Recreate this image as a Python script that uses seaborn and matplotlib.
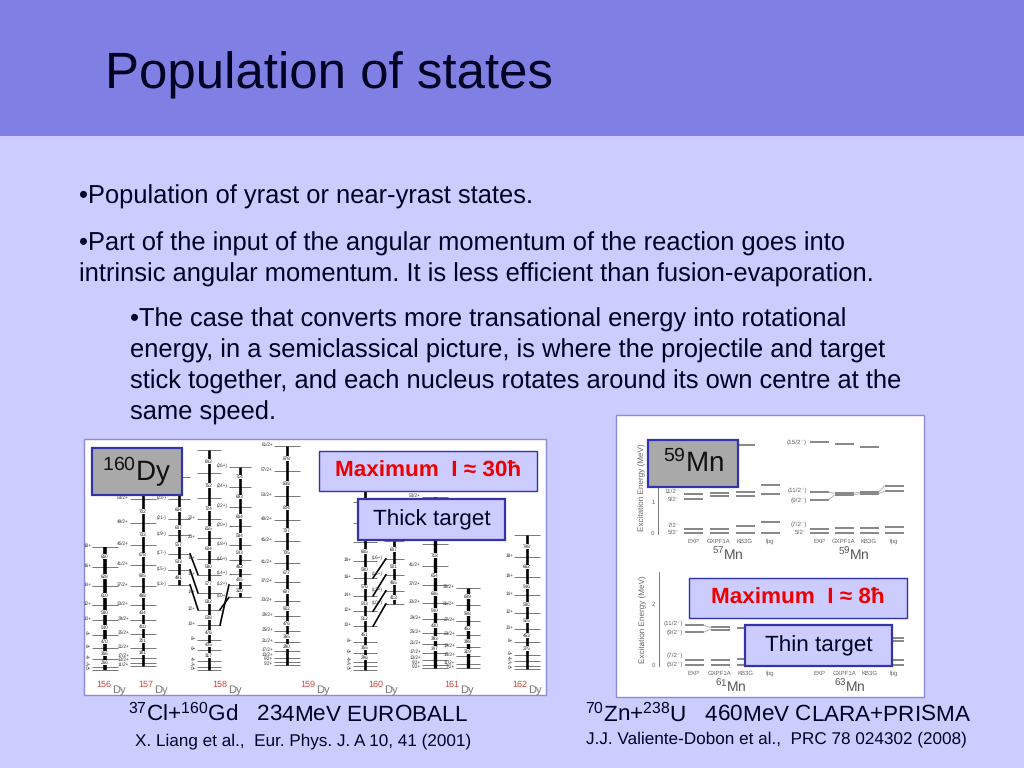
import matplotlib
matplotlib.use("Agg")
import matplotlib.pyplot as plt
from matplotlib.patches import Rectangle
import pandas as pd
import seaborn as sns

sns.set_theme(style="white")
plt.rcParams['font.family'] = ['Liberation Sans', 'DejaVu Sans']
plt.rcParams['mathtext.fontset'] = 'custom'
plt.rcParams['mathtext.rm'] = 'Liberation Sans'
plt.rcParams['mathtext.default'] = 'regular'
plt.rcParams['text.hinting'] = 'no_hinting'

# Dy level schemes : level heights (arbitrary units)
dy156 = [0, 11, 35, 67, 107, 152, 197, 254, 311, 370]
dy157 = [14, 21, 37, 67, 110, 152, 197, 254, 317, 375, 442, 513, 579]
dy158a = [257, 302, 350, 405, 454, 513, 579]
dy158 = [0, 11, 29, 60, 92, 135, 182, 232, 287, 334, 397, 454, 517, 592, 662]
dy158b = [219, 257, 289, 331, 375, 434, 490, 550, 610]
dy159 = [17, 25, 37, 57, 85, 117, 162, 207, 265, 322, 387, 452, 522, 597, 672]
dy160 = [2, 12, 25, 52, 85, 132, 177, 223, 277, 327, 384, 442, 505, 537]
dy160b = [200, 239, 287, 335, 389]
dy161 = [7, 17, 32, 52, 79, 112, 155, 202, 257, 312, 379, 442, 519]
dy161b = [7, 20, 42, 69, 105, 147, 195, 247]
dy162 = [5, 12, 29, 47, 85, 124, 172, 225, 280, 340, 405]

even_spins = [f"{i}+" for i in range(0, 30, 2)]
spins156 = even_spins[:10]
spins157 = [f"{i}/2+" for i in [11, 13, 17, 21, 25, 29, 33, 37, 41, 45, 49, 53, 57]]
spins158a = ["(13-)", "(15-)", "(17-)", "(19-)", "(21-)", "(23-)", "(25-)"]
spins158 = even_spins
spins158b = ["(10+)", "(12+)", "(14+)", "(16+)", "(18+)", "(20+)", "(22+)", "(24+)", "(26+)"]
spins159 = [f"{i}/2+" for i in range(5, 62, 4)]
spins160 = even_spins[:14]
spins160b = ["(10+)", "(12+)", "(14+)", "(16+)", "(18+)"]
spins161 = [f"{i}/2+" for i in range(5, 54, 4)]
spins161b = [f"{i}/2+" for i in range(7, 36, 4)]
spins162 = even_spins[:11]

gammas156 = [138, 266, 366, 470, 540, 580, 610, 628, 660]
gammas157 = [77, 107, 181, 301, 410, 434, 488, 605, 678, 733, 702, 804]
gammas158a = [491, 533, 557, 637, 664]
gammas158 = [99, 218, 317, 405, 476, 538, 582, 577, 580, 634, 655, 724, 752, 842]
gammas158b = [320, 405, 462, 543, 584, 664, 693, 714]
gammas159 = [80, 120, 200, 280, 365, 476, 502, 607, 677, 705, 737, 804, 838, 878]
gammas160 = [86, 197, 296, 355, 451, 512, 543, 576, 590, 605]
gammas160b = [413, 465, 501, 607]
gammas161 = [75, 101, 207, 347, 393, 430, 540, 606, 654, 718]
gammas161b = [150, 260, 319, 398, 452, 508, 639]
gammas162 = [81, 185, 266, 375, 453, 525, 580, 546, 662, 748]

dy_names = ["156", "157", "158", "159", "160", "161", "162"]

# Mn level schemes : excitation energy (MeV)
mn_models = ["EXP", "GXPF1A", "KB3G", "fpg"]
mn57 = [[0, .11, 1.10, 1.27], [0, .12, 1.20, 1.30], [0, .21, 1.21, 1.34, 2.87], [0, .34, 1.26, 1.57, 3.24]]
mn59 = [[0, .13, 1.07, 1.32, 2.95], [0, .16, 1.23, 1.29, 2.89], [0, .14, 1.27, 1.32, 2.79], [0, .20, 1.36, 1.53, 3.18]]
mn61 = [[0, .17, 1.06, 1.29], [0, .17, 1.15, 1.22], [0, .20, 1.19], []]
mn63 = [[], [], [], [0, .16, .78, .87]]
mn57_spins = ["5/2⁻", "7/2⁻", "9/2⁻", "11/2⁻"]
mn59_spins = ["5/2⁻", "(7/2⁻)", "(9/2⁻)", "(11/2⁻)", "(15/2⁻)"]
mn61_spins = ["(5/2⁻)", "(7/2⁻)", "(9/2⁻)", "(11/2⁻)"]

# colours
header_col = "#8080e4"
bg_col = "#ccccff"
edge_col = "#3333aa"
box_gray = "#a9a9a9"
panel_edge = "#8a8ae0"
red_col = "#ee0000"
ink = "#000022"

# boxes : x, y, w, h (pixels)
box_dy = (92, 448, 90, 47)
box_mn = (648, 440, 90, 47)
box_max30 = (319, 451, 218, 40)
box_max8 = (689, 578, 218, 40)
box_thick = (358, 499, 147, 41)
box_thin = (745, 625, 147, 41)
all_boxes = [box_dy, box_mn, box_max30, box_max8, box_thick, box_thin]


def px_rect(x0, y0, x1, y1):
    """Axes position from pixel corners of the 1024x768 slide."""
    return [x0 / 1024, 1 - y1 / 768, (x1 - x0) / 1024, (y1 - y0) / 768]


def hidden(ax, x, y):
    """True when a data point of ax falls under one of the boxes."""
    xp, yp = ax.transData.transform((x, y))
    yp = 768 - yp
    for bx, by, bw, bh in all_boxes:
        if bx - 14 < xp < bx + bw + 14 and by - 3 < yp < by + bh + 3:
            return True
    return False


fig = plt.figure(figsize=(10.24, 7.68), dpi=100, facecolor=bg_col)

# slide background, in pixels
bg = fig.add_axes([0, 0, 1, 1], zorder=0)
bg.set_xlim(0, 1024)
bg.set_ylim(768, 0)
bg.axis("off")
bg.add_patch(Rectangle((0, 0), 1024, 136, fc=header_col, ec="none"))
bg.add_patch(Rectangle((84, 439), 462, 256, fc="white", ec=panel_edge, lw=1.0))
bg.add_patch(Rectangle((616, 415), 308, 282, fc="white", ec=panel_edge, lw=1.0))

# ---- Dy panel
axd = fig.add_axes(px_rect(84, 439, 546, 695), zorder=1)
axd.patch.set_alpha(0)
axd.axis("off")
axd.set_xlim(0, 462)
axd.set_ylim(-74, 694)


def draw_band(x, levels, spins, gammas, hw=13, lw=1.9):
    df = pd.DataFrame({"x": x, "level": levels})
    axd.vlines(x, min(levels), max(levels), color="black", lw=lw)
    sns.scatterplot(data=df, x="x", y="level", marker="_", s=(2 * hw * 0.72) ** 2,
                    color="#777777", linewidth=0.7, ax=axd, legend=False)
    # spin labels pushed apart where levels crowd together
    y_prev = -100
    for lev, sp in zip(levels, spins):
        y_lab = max(lev + 4, y_prev + 13)
        y_prev = y_lab
        if not hidden(axd, x - hw - 6, y_lab):
            axd.text(x - hw - 1, y_lab, sp, fontsize=3.3, color="#333333", ha="right", va="center")
    for lo, hi, g in zip(levels[:-1], levels[1:], gammas):
        if hi - lo > 22 and not hidden(axd, x, (lo + hi) / 2):
            axd.text(x, (lo + hi) / 2, str(g), fontsize=3.3, color="#222222", ha="center", va="center",
                     bbox=dict(fc="white", ec="none", pad=0.1))


def draw_link(xa, ya, xb, yb, hw=13):
    sign = 1 if xb > xa else -1
    axd.plot([xa + sign * hw, xb - sign * hw], [ya, yb], color="black", lw=1.2)


x158a, x158, x158b = 95, 125, 156
x160, x160b = 281, 310
draw_band(21, dy156, spins156, gammas156, lw=2.6)
draw_band(59, dy157, spins157, gammas157)
draw_band(x158a, dy158a, spins158a, gammas158a, hw=11)
draw_band(x158, dy158, spins158, gammas158, hw=12)
draw_band(x158b, dy158b, spins158b, gammas158b, hw=11)
draw_band(203, dy159, spins159, gammas159)
draw_band(x160, dy160, spins160, gammas160, hw=12)
draw_band(x160b, dy160b, spins160b, gammas160b, hw=10)
draw_band(351, dy161, spins161, gammas161, lw=2.4)
draw_band(384, dy161b, spins161b, gammas161b, hw=12, lw=2.4)
draw_band(443, dy162, spins162, gammas162)

for ia, ib in [(0, 6), (1, 7), (2, 8)]:
    draw_link(x158a, dy158a[ia], x158, dy158[ib], hw=11)
for ia, ib in [(0, 6), (1, 5)]:
    draw_link(x158b, dy158b[ia], x158, dy158[ib], hw=11)
for ia, ib in [(0, 5), (1, 6), (2, 7), (3, 8)]:
    draw_link(x160b, dy160b[ia], x160, dy160[ib], hw=8)

for name, xn in zip(dy_names, [27, 69, 143, 231, 299, 375, 443]):
    axd.text(xn, -43, name, fontsize=6.5, color="#cc4444", ha="right", va="center")
    axd.text(xn + 1, -58, "Dy", fontsize=8, color="#777777", ha="left", va="center")


# ---- Mn panels
def draw_mn(pos, schemes, ticks, names, tick_labels, linked):
    ax = fig.add_axes(pos, zorder=1)
    ax.patch.set_alpha(0)
    ax.set_xlim(0, 255)
    ax.set_ylim(-0.04, (pos[3] * 768) / 30.67 - 0.04)
    cols = [35, 61, 87, 112, 161, 186, 211, 236]
    rows = []
    for xc, levels in zip(cols, schemes):
        rows += [{"x": xc, "e": e} for e in levels]
    df = pd.DataFrame(rows)
    sns.scatterplot(data=df, x="x", y="e", marker="_", s=(19 * 0.72) ** 2, color="#666666",
                    linewidth=1.1, ax=ax, legend=False)
    for i in linked:
        for ea, eb in zip(schemes[i][2:4], schemes[i + 1][2:4]):
            ax.plot([cols[i] + 9.5, cols[i + 1] - 9.5], [ea, eb], color="#aaaaaa", lw=0.6)
    for s in ["top", "right", "bottom"]:
        ax.spines[s].set_visible(False)
    ax.spines["left"].set_color("#777777")
    ax.spines["left"].set_linewidth(0.7)
    ax.set_xticks(cols, mn_models * 2)
    ax.set_yticks(ticks, tick_labels)
    ax.tick_params(axis="x", length=0, labelsize=4.3, labelcolor="#666666", pad=3)
    ax.tick_params(axis="y", length=1.5, width=0.5, color="#777777", labelsize=4.3, labelcolor="#666666", pad=1)
    ax.set_xlabel("")
    ax.set_ylabel("Excitation Energy (MeV)", fontsize=5.9, color="#666666", labelpad=4)
    for xn, nm in names:
        ax.text(xn, -0.72, nm, fontsize=10, color="#555555", ha="center", va="center", clip_on=False)
    return ax


axm1 = draw_mn(px_rect(658, 441, 913, 534), mn57 + mn59, [0, 1], [(70, "$^{57}$Mn"), (196, "$^{59}$Mn")], ["0", "1"], [4, 5, 6])
axm2 = draw_mn(px_rect(659, 572, 913, 666), mn61 + mn63, [0, 1, 2], [(72, "$^{61}$Mn"), (192, "$^{63}$Mn")], ["0", "", "2"], [0])

# spin labels beside the first column of each Mn scheme
for ax, xl, labels, levels in [(axm1, 22, mn57_spins, mn57[0]), (axm1, 149, mn59_spins, mn59[0]), (axm2, 24, mn61_spins, mn61[0])]:
    for sp, e, off in zip(labels, levels, [0.02, 0.14, 0.0, 0.07, 0]):
        if not hidden(ax, xl - 6, e + off):
            ax.text(xl, e + off, sp, fontsize=4.6, color="#666666", ha="right", va="center", clip_on=False)

# ---- text and boxes on top, in pixels
top = fig.add_axes([0, 0, 1, 1], zorder=2)
top.patch.set_alpha(0)
top.set_xlim(0, 1024)
top.set_ylim(768, 0)
top.axis("off")

top.text(105, 88, "Population of states", fontsize=36.7, color=ink, va="baseline")

body = [
    (79, 204, "•Population of yrast or near-yrast states."),
    (79, 251, "•Part of the input of the angular momentum of the reaction goes into"),
    (79, 282, "intrinsic angular momentum. It is less efficient than fusion-evaporation."),
    (130, 327, "•The case that converts more transational energy into rotational"),
    (130, 358, "energy, in a semiclassical picture, is where the projectile and target"),
    (130, 389, "stick together, and each nucleus rotates around its own centre at the"),
    (130, 420, "same speed."),
]
for x, y, line in body:
    top.text(x, y, line, fontsize=18.4, color=ink, va="baseline")

box_styles = [
    (box_dy, box_gray, 1.6, "$^{160}$Dy", 20, "#111111", "normal"),
    (box_mn, box_gray, 1.6, "$^{59}$Mn", 20, "#111111", "normal"),
    (box_max30, bg_col, 1.0, "Maximum  I ≈ 30ħ", 16.2, red_col, "bold"),
    (box_max8, bg_col, 1.0, "Maximum  I ≈ 8ħ", 16.2, red_col, "bold"),
    (box_thick, bg_col, 1.6, "Thick target", 16.2, ink, "normal"),
    (box_thin, bg_col, 1.6, "Thin target", 16.2, ink, "normal"),
]
for (x, y, w, h), fc, lw, label, fs, col, weight in box_styles:
    top.add_patch(Rectangle((x, y), w, h, fc=fc, ec=edge_col, lw=lw))
    top.text(x + w / 2, y + h / 2, label, fontsize=fs, color=col, fontweight=weight, ha="center", va="center")

captions = [
    (298, 720, "$^{37}$Cl+$^{160}$Gd   234MeV EUROBALL", 16.2),
    (303, 745, "X. Liang et al.,  Eur. Phys. J. A 10, 41 (2001)", 12.3),
    (778, 720, "$^{70}$Zn+$^{238}$U   460MeV CLARA+PRISMA", 16.2),
    (776, 743, "J.J. Valiente-Dobon et al.,  PRC 78 024302 (2008)", 12.3),
]
for x, y, line, fs in captions:
    top.text(x, y, line, fontsize=fs, color=ink, ha="center", va="baseline")

fig.savefig("out.png", dpi=100, facecolor=bg_col)
